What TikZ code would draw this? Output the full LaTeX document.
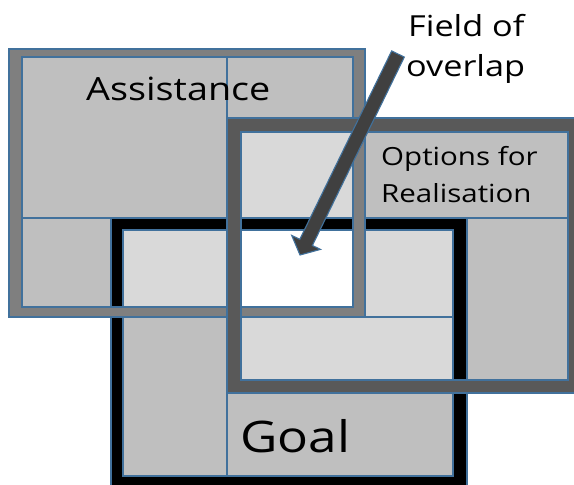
\documentclass[tikz,border=0pt]{standalone}
\usepackage{fontspec}
\newfontfamily\lab[FakeStretch=1.18]{Open Sans}
\definecolor{outl}{HTML}{41719C}
\definecolor{midg}{HTML}{BFBFBF}
\definecolor{lightg}{HTML}{D9D9D9}
\definecolor{agray}{HTML}{7F7F7F}
\definecolor{ogray}{HTML}{595959}
\definecolor{arrowg}{HTML}{404040}
\begin{document}
\begin{tikzpicture}[x=1pt,y=-1pt,
  piece/.style={draw=outl,line width=1.1pt},
  frame/.style={draw=outl,line width=1.1pt,even odd rule},
  lbl/.style={inner sep=0pt,anchor=base west,text=black}]
\useasboundingbox (0,0) rectangle (574,485);
\fill[white] (0,0) rectangle (574,485);
% region pieces
\path[piece,fill=midg] (22,57) rectangle (227,218);
\path[piece,fill=midg] (227,57) rectangle (353,118);
\path[piece,fill=midg] (22,218) rectangle (111,307);
\path[piece,fill=lightg] (123,230) rectangle (227,307);
\path[piece,fill=lightg] (241,132) rectangle (353,218);
\path[piece,fill=white] (241,230) rectangle (353,307);
\path[piece,fill=lightg] (365,230) rectangle (453,317);
\path[piece,fill=lightg] (241,317) rectangle (453,380);
\path[piece,fill=midg] (123,317) rectangle (227,476);
\path[piece,fill=midg] (227,393) rectangle (453,476);
\path[piece,fill=midg] (365,132) rectangle (568,218);
\path[piece,fill=midg] (467,218) rectangle (568,380);
% texts
\node[lbl,font=\lab\fontsize{32}{38}\selectfont] (assist) at (86,100) {Assistance};
\node[lbl,font=\lab\fontsize{25}{30}\selectfont] (opt1) at (381,165) {Options for};
\node[lbl,font=\lab\fontsize{25}{30}\selectfont] (opt2) at (381,202) {Realisation};
\node[lbl,font=\lab\fontsize{43.5}{50}\selectfont] (goal) at (240,452) {Goal};
% frames: Goal, Assistance, Options
\path[frame,fill=black] (111,218) rectangle (467,490) (123,230) rectangle (453,476);
\path[frame,fill=agray] (9,49) rectangle (365,317) (22,57) rectangle (353,307);
\path[frame,fill=ogray] (227,118) rectangle (580,393) (241,132) rectangle (568,380);
% arrow
\coordinate (tip) at (300,255);
\path[draw=outl,line width=1.1pt,fill=arrowg,line join=miter]
  (tip) -- (320.5,249.4) -- (312.4,245.5) -- (404.3,57.1) -- (391.7,50.9)
  -- (299.8,239.3) -- (291.7,235.4) -- cycle;
\node[lbl,font=\lab\fontsize{29}{35}\selectfont] (field1) at (408,36) {Field of};
\node[lbl,font=\lab\fontsize{29}{35}\selectfont] (field2) at (406,76) {overlap};
\end{tikzpicture}
\end{document}
